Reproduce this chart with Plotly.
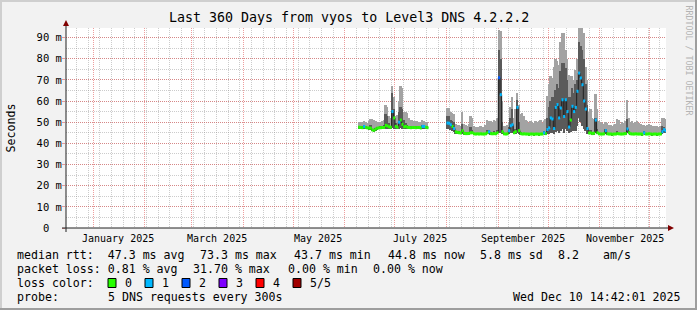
import plotly.graph_objects as go
import pandas as pd

# ---------------- data ----------------
title_text = "Last 360 Days from vyos to Level3 DNS 4.2.2.2"
graph_end = "2025-12-10 14:42:01"
span_days = 360

seg_a_start = "2025-06-09"
med_a = [47.6, 47.5, 47.4, 48.0, 47.5, 47.3, 47.2, 47.2, 46.3, 46.2,
         46.8, 47.2, 47.3, 47.4, 47.5, 47.5, 48.5, 48.2, 47.8, 47.6,
         55.0, 52.0, 48.0, 47.6, 50.0, 51.0, 49.0, 47.8, 48.0, 47.6,
         47.5, 47.4, 47.5, 47.5, 47.4, 47.5, 47.5, 47.3, 48.0, 48.0,
         47.6, 47.4]
hi_a = [50.2, 50.0, 50.3, 50.5, 50.0, 49.8, 50.5, 51.6, 51.5, 51.0,
        50.5, 50.0, 50.3, 50.2, 50.6, 51.0, 58.0, 57.0, 53.0, 52.0,
        67.0, 62.0, 53.0, 53.5, 60.0, 67.0, 66.0, 55.0, 55.0, 54.5,
        52.0, 51.0, 51.0, 50.5, 50.5, 50.5, 50.3, 50.0, 51.0, 50.5,
        50.2, 50.0]
dk_a = [48.2, 48.1, 48.0, 48.6, 48.1, 47.9, 47.8, 48.5, 47.0, 46.9,
        47.4, 47.8, 47.9, 48.0, 48.1, 48.6, 54.0, 53.0, 49.5, 48.2,
        64.0, 56.0, 49.5, 48.2, 55.0, 57.0, 56.0, 51.0, 49.5, 48.5,
        48.1, 48.0, 48.1, 48.1, 48.0, 48.1, 48.1, 47.9, 48.6, 48.6,
        48.2, 48.0]
lo_a = [46.8, 46.7, 46.6, 46.9, 46.8, 46.6, 46.5, 46.4, 45.6, 45.5,
        46.0, 46.4, 46.6, 46.6, 46.7, 46.7, 47.0, 46.9, 46.9, 46.8,
        47.2, 47.0, 46.9, 46.8, 47.0, 47.1, 47.0, 46.9, 47.0, 46.8,
        46.8, 46.7, 46.8, 46.7, 46.7, 46.8, 46.7, 46.6, 46.9, 46.9,
        46.8, 46.6]
loss_a = [0, 0, 0, 1, 0, 0, 0, 0, 0, 0,
          0, 0, 0, 0, 0, 0, 0, 0, 0, 0,
          1, 0, 0, 0, 1, 0, 0, 0, 0, 0,
          0, 0, 0, 0, 0, 0, 0, 0, 1, 1,
          0, 0]

seg_b_start = "2025-08-01"
med_b = [49.6, 49.5, 48.8, 48.0, 47.0, 45.4, 45.2, 45.0, 44.9, 46.0,
         44.8, 44.6, 44.6, 44.7, 45.0, 45.0, 44.5, 44.4, 44.5, 44.4,
         44.5, 44.4, 44.4, 44.5, 45.0, 45.5, 44.6, 44.5, 44.6, 44.5,
         45.0, 71.0, 63.0, 45.5, 44.5, 44.4, 44.5, 46.0, 48.3, 48.8,
         45.0, 45.5, 57.0, 46.0, 44.6, 44.4, 44.5, 44.4, 44.4, 44.3,
         44.4, 44.4, 44.3, 44.4, 44.4, 44.3, 44.4, 44.4, 45.0, 44.6,
         46.5, 47.3, 52.0, 51.5, 47.0, 57.0, 58.3, 52.0, 56.7, 60.6,
         52.7, 60.6, 55.0, 47.7, 51.0, 57.5, 55.0, 57.0, 64.6, 73.2,
         70.9, 67.7, 60.0, 56.2, 47.0, 44.9, 44.9, 44.6, 44.8, 51.0,
         45.0, 44.5, 44.4, 44.4, 44.5, 46.0, 44.5, 44.4, 44.4, 44.3,
         44.4, 44.4, 44.6, 44.5, 44.4, 44.4, 44.5, 44.6, 46.8, 45.0,
         44.5, 44.4, 44.4, 44.5, 44.4, 44.4, 44.4, 44.3, 45.0, 44.4,
         44.4, 44.5, 44.4, 44.3, 44.4, 44.4, 44.3, 44.4, 44.4, 45.5,
         46.5, 46.0]
hi_b = [56.7, 56.5, 55.0, 54.3, 54.0, 49.0, 48.8, 48.5, 48.3, 55.0,
        49.0, 48.5, 48.3, 49.0, 52.7, 52.0, 48.0, 47.5, 47.8, 47.5,
        48.0, 47.6, 47.8, 48.5, 51.0, 50.5, 50.5, 50.0, 51.0, 50.5,
        52.0, 93.5, 93.0, 60.0, 48.0, 48.0, 48.5, 50.0, 57.0, 62.0,
        52.0, 56.0, 64.0, 58.0, 54.0, 54.4, 53.0, 51.0, 50.4, 49.5,
        50.5, 50.0, 49.5, 50.5, 50.0, 50.4, 51.0, 49.5, 50.5, 51.5,
        62.2, 68.0, 71.6, 71.0, 76.0, 80.0, 78.7, 77.0, 88.0, 92.0,
        92.0, 84.0, 80.0, 72.4, 72.0, 71.6, 70.0, 74.8, 80.0, 94.5,
        94.5, 94.5, 92.0, 76.0, 70.0, 55.0, 56.0, 52.0, 51.5, 63.4,
        56.0, 50.4, 50.0, 49.5, 49.0, 50.0, 49.5, 48.5, 48.5, 48.0,
        48.5, 49.0, 51.5, 51.0, 49.0, 50.0, 49.5, 50.5, 60.3, 52.0,
        50.0, 50.4, 49.6, 50.0, 50.4, 49.5, 49.0, 48.5, 48.5, 48.3,
        48.8, 49.0, 48.5, 48.0, 48.0, 48.2, 48.0, 47.8, 48.0, 52.0,
        52.0, 51.5]
dk_b = [53.0, 53.0, 51.0, 50.5, 50.0, 46.0, 45.8, 45.6, 45.5, 49.0,
        45.4, 45.2, 45.2, 45.3, 47.5, 46.5, 45.1, 45.0, 45.1, 45.0,
        45.1, 45.0, 45.0, 45.1, 46.5, 46.5, 45.2, 45.1, 46.0, 45.1,
        46.5, 84.0, 80.0, 50.0, 45.1, 45.0, 45.1, 47.5, 52.0, 56.0,
        45.6, 47.0, 60.5, 50.0, 45.2, 45.0, 45.1, 45.0, 45.0, 44.9,
        45.0, 45.0, 44.9, 45.0, 45.0, 44.9, 45.0, 45.0, 45.6, 45.5,
        52.0, 57.0, 60.0, 62.0, 62.0, 65.0, 68.0, 66.0, 74.0, 78.0,
        78.0, 75.6, 70.0, 62.0, 62.0, 66.0, 64.0, 68.0, 70.0, 88.0,
        86.0, 84.0, 80.0, 68.0, 58.0, 46.0, 46.5, 45.2, 45.4, 52.0,
        47.0, 45.1, 45.0, 45.0, 45.1, 46.6, 45.1, 45.0, 45.0, 44.9,
        45.0, 45.0, 46.0, 45.1, 45.0, 45.0, 45.1, 45.2, 51.5, 45.6,
        45.1, 45.0, 45.0, 45.1, 45.0, 45.0, 45.0, 44.9, 45.6, 45.0,
        45.0, 45.1, 45.0, 44.9, 45.0, 45.0, 44.9, 45.0, 45.0, 48.0,
        47.5, 47.0]
lo_b = [47.0, 47.0, 46.5, 46.0, 45.5, 44.6, 44.4, 44.3, 44.2, 44.5,
        44.1, 44.0, 43.9, 44.0, 44.3, 44.3, 43.9, 43.8, 43.9, 43.8,
        43.9, 43.8, 43.8, 43.9, 44.2, 44.5, 44.0, 43.9, 44.0, 43.9,
        44.2, 45.0, 45.0, 44.5, 43.9, 43.8, 43.9, 44.5, 45.0, 45.0,
        44.2, 44.5, 45.0, 44.5, 44.0, 43.8, 43.9, 43.8, 43.8, 43.7,
        43.8, 43.8, 43.7, 43.8, 43.8, 43.7, 43.8, 43.8, 44.2, 44.0,
        44.5, 44.5, 45.0, 45.0, 44.5, 45.5, 46.0, 45.0, 46.0, 47.0,
        45.0, 47.0, 46.0, 44.8, 45.5, 46.0, 46.0, 46.0, 48.0, 52.0,
        50.0, 48.0, 47.0, 46.0, 44.5, 44.2, 44.2, 44.0, 44.1, 45.0,
        44.3, 43.9, 43.8, 43.8, 43.9, 44.5, 43.9, 43.8, 43.8, 43.7,
        43.8, 43.8, 44.0, 43.9, 43.8, 43.8, 43.9, 44.0, 44.8, 44.3,
        43.9, 43.8, 43.8, 43.9, 43.8, 43.8, 43.8, 43.7, 44.2, 43.8,
        43.8, 43.9, 43.8, 43.7, 43.8, 43.8, 43.7, 43.8, 43.8, 44.5,
        45.0, 44.8]
loss_b = [1, 1, 1, 0, 1, 0, 0, 0, 0, 0,
          0, 0, 0, 0, 0, 0, 0, 0, 0, 0,
          0, 0, 0, 0, 0, 1, 0, 0, 0, 0,
          0, 2, 1, 0, 0, 0, 0, 1, 1, 1,
          0, 0, 1, 0, 0, 0, 0, 0, 0, 0,
          0, 0, 0, 0, 0, 0, 0, 0, 1, 0,
          1, 1, 1, 1, 1, 1, 1, 1, 1, 1,
          1, 1, 1, 1, 0, 1, 1, 1, 1, 1,
          1, 1, 1, 1, 1, 0, 0, 0, 0, 1,
          0, 0, 0, 0, 0, 1, 0, 0, 0, 0,
          0, 0, 0, 0, 0, 0, 0, 0, 1, 0,
          0, 0, 0, 0, 0, 0, 0, 0, 1, 0,
          0, 0, 0, 0, 0, 0, 0, 0, 0, 1,
          1, 1]

y_ticks = [0, 10, 20, 30, 40, 50, 60, 70, 80, 90]
y_tick_text = ["0\u00a0\u00a0", "10 m", "20 m", "30 m", "40 m", "50 m",
               "60 m", "70 m", "80 m", "90 m"]
y_max = 94.5
month_labels = ["January 2025", "March 2025", "May 2025", "July 2025",
                "September 2025", "November 2025"]
month_label_dates = ["2025-01-16", "2025-03-16", "2025-05-16", "2025-07-16",
                     "2025-09-16", "2025-11-16"]

loss_names = ["0", "1", "2", "3", "4", "5/5"]
loss_colors = ["#26ff00", "#00b8ff", "#0059ff", "#7e00ff", "#ff0000", "#a10000"]

legend_line1 = ["median rtt:  47.3 ms avg", "73.3 ms max", "43.7 ms min",
                "44.8 ms now", "5.8 ms sd", "8.2", "am/s"]
legend_line2 = ["packet loss: 0.81 % avg", "31.70 % max", "0.00 % min", "0.00 % now"]
probe_label = "probe:"
probe_text = "5 DNS requests every 300s"
stamp_text = "Wed Dec 10 14:42:01 2025"

# ---------------- style / layout ----------------
W, H = 697, 310
L, R, T, B = 66, 31, 28, 82
PW, PH = W - L - R, H - T - B
MONO = "DejaVu Sans Mono"
BACK = "#f2f2f2"
LIGHT = "#a3a3a3"
DARK = "#5a5a5a"
MGRID = "rgba(222,79,79,0.55)"
GRID = "rgba(143,143,143,0.45)"
AXIS = "#212121"
ARROW = "#800000"
DAY = pd.Timedelta(days=1)

line1_x = [16, 199, 293, 387, 479, 557, 602]
line2_x = [16, 192, 286.7, 372.4]


def px(x):
    return (x - L) / PW


def py(y):
    return (T + PH - y) / PH


t_end = pd.Timestamp(graph_end)
t_start = t_end - pd.Timedelta(days=span_days)

segments = [
    (seg_a_start, med_a, hi_a, dk_a, lo_a, loss_a),
    (seg_b_start, med_b, hi_b, dk_b, lo_b, loss_b),
]

fig = go.Figure()

# smoke
for start, med, hi, dk, lo, loss in segments:
    days = pd.date_range(start, periods=len(med), freq="D")
    centers = days + DAY / 2
    fig.add_trace(go.Bar(x=centers, y=[h - l for h, l in zip(hi, lo)], base=lo,
                         width=86400000, marker=dict(color=LIGHT, line=dict(width=0)),
                         hoverinfo="skip", showlegend=False))
    fig.add_trace(go.Bar(x=centers, y=[d - l for d, l in zip(dk, lo)], base=lo,
                         width=86400000, marker=dict(color=DARK, line=dict(width=0)),
                         hoverinfo="skip", showlegend=False))

# median black step line
mx, my = [], []
for start, med, hi, dk, lo, loss in segments:
    days = pd.date_range(start, periods=len(med), freq="D")
    mx += list(days) + [days[-1] + DAY, None]
    my += list(med) + [med[-1], None]
fig.add_trace(go.Scatter(x=mx, y=my, mode="lines", line=dict(color="#202020", width=1, shape="hv"),
                         hoverinfo="skip", showlegend=False))

# coloured median by loss: one short horizontal piece per step
for c, col in enumerate(loss_colors):
    cx, cy = [], []
    for start, med, hi, dk, lo, loss in segments:
        days = pd.date_range(start, periods=len(med), freq="D")
        for d, m, lc in zip(days, med, loss):
            if lc == c:
                cx += [d - pd.Timedelta(hours=3), d + DAY + pd.Timedelta(hours=3), None]
                cy += [m, m, None]
    if cx:
        fig.add_trace(go.Scatter(x=cx, y=cy, mode="lines", line=dict(color=col, width=3),
                                 hoverinfo="skip", showlegend=False))

shapes = []
ann = []

# axes lines and arrows
shapes.append(dict(type="line", xref="paper", yref="paper", x0=px(62), x1=px(669), y0=0, y1=0,
                   line=dict(color=AXIS, width=1)))
shapes.append(dict(type="line", xref="paper", yref="paper", x0=0, x1=0, y0=py(232), y1=py(25),
                   line=dict(color=AXIS, width=1)))
shapes.append(dict(type="path", xref="paper", yref="paper",
                   path=f"M {px(668)} {py(225)} L {px(674)} {py(228)} L {px(668)} {py(231)} Z",
                   fillcolor=ARROW, line=dict(width=0)))
shapes.append(dict(type="path", xref="paper", yref="paper",
                   path=f"M {px(63)} {py(26)} L {px(66)} {py(20)} L {px(69)} {py(26)} Z",
                   fillcolor=ARROW, line=dict(width=0)))

# frame border
shapes.append(dict(type="rect", xref="paper", yref="paper", x0=px(0), x1=px(697), y0=py(0), y1=py(2),
                   fillcolor="#cfcfcf", line=dict(width=0)))
shapes.append(dict(type="rect", xref="paper", yref="paper", x0=px(0), x1=px(2), y0=py(0), y1=py(310),
                   fillcolor="#cfcfcf", line=dict(width=0)))
shapes.append(dict(type="rect", xref="paper", yref="paper", x0=px(0), x1=px(697), y0=py(308), y1=py(310),
                   fillcolor="#9e9e9e", line=dict(width=0)))
shapes.append(dict(type="rect", xref="paper", yref="paper", x0=px(695), x1=px(697), y0=py(0), y1=py(310),
                   fillcolor="#9e9e9e", line=dict(width=0)))

# title
ann.append(dict(text=title_text, xref="paper", yref="paper", x=px(348.5), y=py(18),
                xanchor="center", yanchor="middle", showarrow=False,
                font=dict(family=MONO, size=13.3, color="#000000")))
# y title
ann.append(dict(text="Seconds", xref="paper", yref="paper", x=px(10.5), y=py(128),
                xanchor="center", yanchor="middle", textangle=-90, showarrow=False,
                font=dict(family=MONO, size=11.6, color="#000000")))
# watermark
ann.append(dict(text="RRDTOOL / TOBI OETIKER", xref="paper", yref="paper", x=px(688.5), y=py(60),
                xanchor="center", yanchor="middle", textangle=90, showarrow=False,
                font=dict(family=MONO, size=8.3, color="#b4b4b4")))
# month labels
for lab, d in zip(month_labels, month_label_dates):
    ann.append(dict(text=lab, xref="x", yref="paper", x=d, y=py(238.5),
                    xanchor="center", yanchor="middle", showarrow=False,
                    font=dict(family=MONO, size=10, color="#000000")))

LF = dict(family=MONO, size=11.6, color="#000000")


def left_text(txt, xpix, ypix):
    ann.append(dict(text=txt.replace(" ", "\u00a0"), xref="paper", yref="paper",
                    x=px(xpix), y=py(ypix), xanchor="left", yanchor="middle",
                    showarrow=False, borderpad=0, font=LF))


for txt, xpix in zip(legend_line1, line1_x):
    left_text(txt, xpix, 255)
for txt, xpix in zip(legend_line2, line2_x):
    left_text(txt, xpix, 269)
left_text("loss color:", 16, 283)
box_x = [108, 145, 182, 219, 256, 293]
for name, col, bx in zip(loss_names, loss_colors, box_x):
    shapes.append(dict(type="rect", xref="paper", yref="paper", x0=px(bx), x1=px(bx + 8),
                       y0=py(278.5), y1=py(287.5), fillcolor=col, line=dict(color="#000000", width=1)))
    left_text(name, bx + 15.5, 283)
left_text(probe_label, 16, 297)
left_text(probe_text, 106.7, 297)
left_text(stamp_text, 512.4, 297)

fig.update_layout(
    width=W, height=H, margin=dict(l=L, r=R, t=T, b=B, pad=0),
    paper_bgcolor=BACK, plot_bgcolor="#ffffff",
    barmode="overlay", bargap=0, showlegend=False,
    shapes=shapes, annotations=ann,
    xaxis=dict(type="date", range=[t_start, t_end], showticklabels=False, ticks="",
               tickmode="linear", tick0="2025-01-01", dtick="M1",
               showgrid=True, gridcolor=MGRID, griddash="1px,1px", gridwidth=1,
               minor=dict(dtick=7 * 86400000, tick0="2024-12-29", showgrid=True,
                          gridcolor=GRID, griddash="1px,1px", gridwidth=1, ticks=""),
               showline=False, zeroline=False, fixedrange=True),
    yaxis=dict(range=[0, y_max], tickmode="array", tickvals=y_ticks, ticktext=y_tick_text,
               tickfont=dict(family=MONO, size=10.5, color="#000000"),
               ticks="outside", ticklen=3, tickcolor=MGRID, ticklabelstandoff=-2,
               showgrid=True, gridcolor=MGRID, griddash="1px,1px", gridwidth=1,
               minor=dict(dtick=5, tick0=0, showgrid=True, gridcolor=GRID,
                          griddash="1px,1px", gridwidth=1, ticks=""),
               showline=False, zeroline=False, fixedrange=True),
)

fig.write_html("out.html")
